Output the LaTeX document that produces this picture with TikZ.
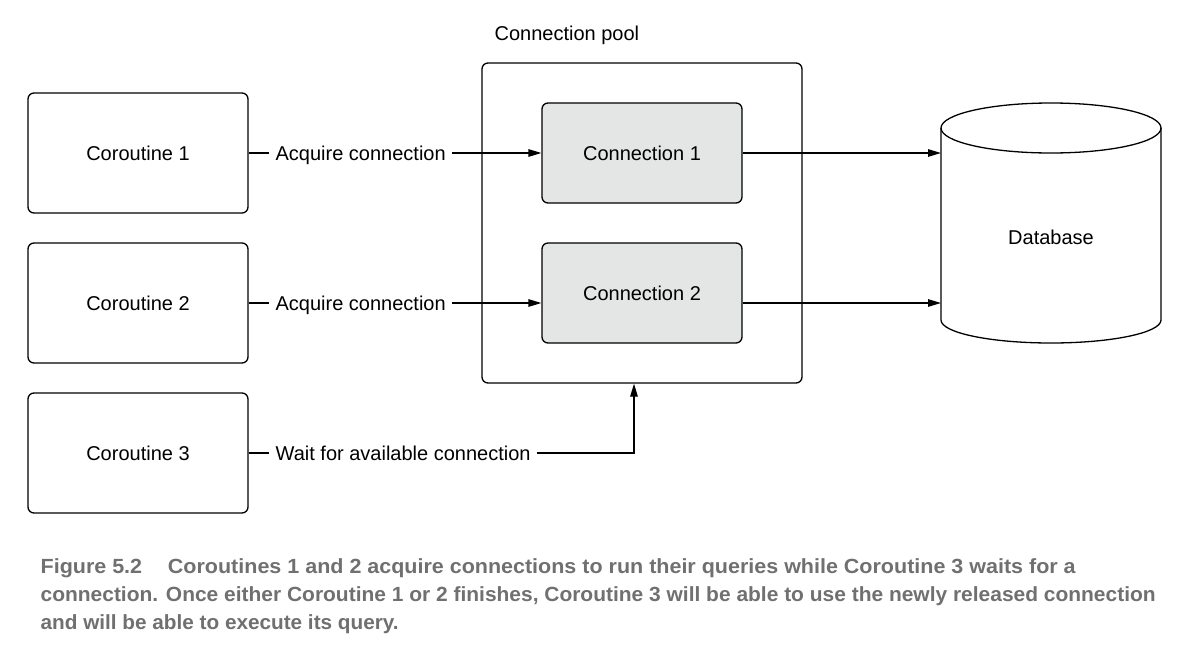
\documentclass[tikz,border=0pt]{standalone}
\usepackage{fontspec}
\usepackage{graphicx}
\setmainfont{Liberation Sans}
\usetikzlibrary{arrows.meta}
\definecolor{capgray}{RGB}{112,112,112}
\definecolor{connfill}{RGB}{228,229,229}
\begin{document}
\begin{tikzpicture}[x=1pt,y=-1pt,
  line width=1.3pt,
  every node/.style={font=\fontsize{20}{24}\selectfont},
  txt/.style={text height=14.3pt,text depth=0pt,inner sep=0pt},
  corbox/.style={draw,rounded corners=6pt,minimum width=220pt,minimum height=120pt,inner sep=0pt,text height=14.3pt,text depth=0pt},
  connbox/.style={draw,fill=connfill,rounded corners=6pt,minimum width=200pt,minimum height=100pt,inner sep=0pt,text height=14.3pt,text depth=0pt},
  lab/.style={text height=14.3pt,text depth=0pt,inner ysep=0pt,inner xsep=6pt,anchor=west},
  arr/.style={-{Triangle[length=13pt,width=7.5pt]}},
  captxt/.style={font=\fontsize{20.5}{24}\bfseries\selectfont,text=capgray,anchor=base west,inner sep=0pt}
]
\useasboundingbox (0,0) rectangle (1202,656);

% coroutines
\node[corbox] (cor1) at (138,153) {Coroutine 1};
\node[corbox] (cor2) at (138,303) {Coroutine 2};
\node[corbox] (cor3) at (138,453) {Coroutine 3};

% pool
\node[draw,rounded corners=6pt,minimum width=320pt,minimum height=320pt,inner sep=0pt] (pool) at (642,223) {};
\node[txt,anchor=west] (poollab) at (494,33) {Connection pool};
\node[connbox] (conn1) at (642,153) {Connection 1};
\node[connbox] (conn2) at (642,293) {Connection 2};

% database
\draw (1051,128) ellipse [x radius=110pt, y radius=25pt];
\draw (941,128) -- (941,320) arc[start angle=180, end angle=360, x radius=110pt, y radius=23pt] -- (1161,128);
\node[txt] (db) at (1051,237) {Database};
\coordinate (dbw) at (941,223);

% labels
\node[lab] (lab1) at (269,153) {Acquire connection};
\node[lab] (lab2) at (269,303) {Acquire connection};
\node[lab] (lab3) at (269,453) {Wait for available connection};

% connectors
\draw (cor1.east) -- (lab1.west);
\draw[arr] (lab1.east) -- (lab1.east -| conn1.west);
\draw (cor2.east) -- (lab2.west);
\draw[arr] (lab2.east) -- (lab2.east -| conn2.west);
\draw (cor3.east) -- (lab3.west);
\draw[arr] (lab3.east) -| ([xshift=-8pt]pool.south);
\draw[arr] (conn1.east) -- (conn1.east -| dbw);
\draw[arr] (conn2.east |- lab2) -- (dbw |- lab2);

% caption
\node[captxt] (cap1) at (40,573) {\resizebox{1035pt}{\height}{Figure 5.2\hspace{1.2em}Coroutines 1 and 2 acquire connections to run their queries while Coroutine 3 waits for a}};
\node[captxt] (cap2) at (40,601) {\resizebox{1115pt}{\height}{connection. Once either Coroutine 1 or 2 finishes, Coroutine 3 will be able to use the newly released connection}};
\node[captxt] (cap3) at (40,629) {\resizebox{358pt}{\height}{and will be able to execute its query.}};
\end{tikzpicture}
\end{document}
